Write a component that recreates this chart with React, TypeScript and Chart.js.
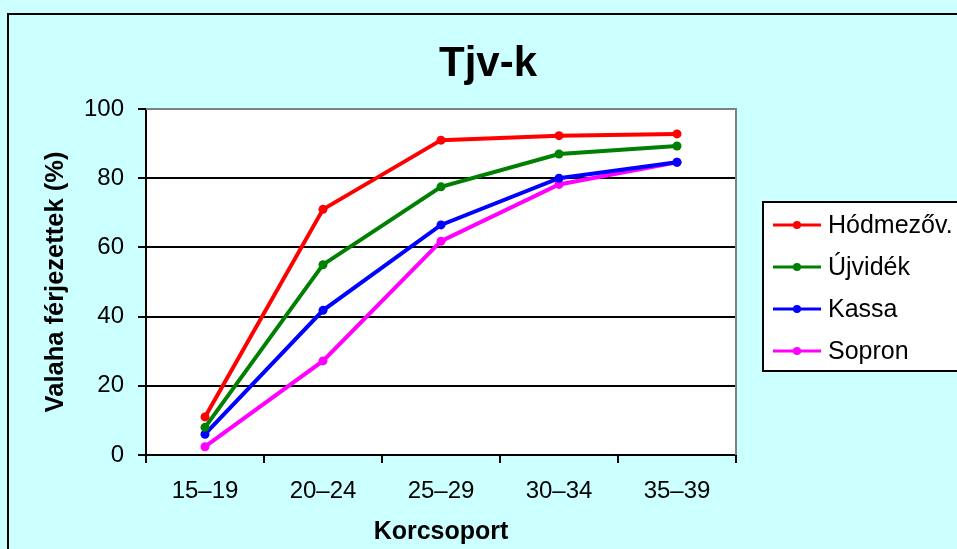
import React, { useEffect, useRef } from "react";
import { Chart, registerables } from "chart.js";

Chart.register(...registerables);

const categories = ["15–19", "20–24", "25–29", "30–34", "35–39"];
const seriesNames = ["Hódmezőv.", "Újvidék", "Kassa", "Sopron"];
const hodmezo = [11, 71, 91, 92.3, 92.8];
const ujvidek = [8, 55, 77.5, 87, 89.3];
const kassa = [6, 41.8, 66.5, 80, 84.6];
const sopron = [2.4, 27.2, 61.8, 78.2, 84.6];
const seriesColors = ["#FF0000", "#008000", "#0000FF", "#FF00FF"];
const yTicks = [0, 20, 40, 60, 80, 100];
const titleText = "Tjv-k";
const xTitle = "Korcsoport";
const yTitle = "Valaha férjezettek (%)";

const FONT = "'Liberation Sans', Arial, sans-serif";

const decorPlugin = {
  id: "decor",
  beforeDraw(chart: any) {
    const { ctx, width, height, chartArea } = chart;
    ctx.save();
    ctx.fillStyle = "#CCFFFF";
    ctx.fillRect(0, 0, width, height);
    ctx.strokeStyle = "#000000";
    ctx.lineWidth = 2;
    ctx.strokeRect(8, 14, width + 20, height + 20);
    ctx.fillStyle = "#FFFFFF";
    ctx.fillRect(chartArea.left, chartArea.top, chartArea.right - chartArea.left, chartArea.bottom - chartArea.top);
    ctx.restore();
  },
  afterDatasetsDraw(chart: any) {
    const { ctx, chartArea } = chart;
    ctx.save();
    ctx.strokeStyle = "#808080";
    ctx.lineWidth = 2;
    ctx.beginPath();
    ctx.moveTo(chartArea.left, chartArea.top);
    ctx.lineTo(chartArea.right, chartArea.top);
    ctx.lineTo(chartArea.right, chartArea.bottom);
    ctx.stroke();
    ctx.restore();
  },
  afterDraw(chart: any) {
    const { ctx } = chart;
    ctx.save();
    // title
    ctx.fillStyle = "#000000";
    ctx.font = `bold 42px ${FONT}`;
    ctx.textAlign = "center";
    ctx.textBaseline = "alphabetic";
    ctx.fillText(titleText, 488, 76);
    // legend
    const boxL = 763, boxT = 202, boxB = 371;
    ctx.fillStyle = "#FFFFFF";
    ctx.fillRect(boxL, boxT, 220, boxB - boxT);
    ctx.strokeStyle = "#000000";
    ctx.lineWidth = 2;
    ctx.strokeRect(boxL, boxT, 220, boxB - boxT);
    chart.data.datasets.forEach((ds: any, i: number) => {
      const y = 225 + i * 42;
      ctx.strokeStyle = ds.borderColor;
      ctx.lineWidth = 3;
      ctx.beginPath();
      ctx.moveTo(773, y);
      ctx.lineTo(821, y);
      ctx.stroke();
      ctx.fillStyle = ds.borderColor;
      ctx.beginPath();
      ctx.arc(797, y, 4, 0, Math.PI * 2);
      ctx.fill();
      ctx.fillStyle = "#000000";
      ctx.font = `25px ${FONT}`;
      ctx.textAlign = "left";
      ctx.textBaseline = "middle";
      ctx.fillText(ds.label, 828, y + 1);
    });
    ctx.restore();
  },
};

export default function App() {
  const ref = useRef<HTMLCanvasElement | null>(null);
  useEffect(() => {
    if (!ref.current) return;
    const seriesData = [hodmezo, ujvidek, kassa, sopron];
    const chart = new Chart(ref.current, {
      type: "line",
      data: {
        labels: categories,
        datasets: seriesNames.map((name, i) => ({
          label: name,
          data: seriesData[i],
          borderColor: seriesColors[i],
          backgroundColor: seriesColors[i],
          borderWidth: 4,
          pointRadius: 4.5,
          pointBorderWidth: 0,
          pointBackgroundColor: seriesColors[i],
          tension: 0,
        })),
      },
      options: {
        responsive: false,
        animation: false,
        layout: { padding: { top: 109, right: 221, left: 0, bottom: 0 } },
        plugins: { legend: { display: false }, title: { display: false }, tooltip: { enabled: false } },
        scales: {
          x: {
            type: "category",
            offset: true,
            grid: {
              offset: true,
              drawOnChartArea: false,
              drawTicks: true,
              tickLength: 8,
              color: "#000000",
              tickColor: "#000000",
              lineWidth: 2,
            },
            border: { display: true, color: "#000000", width: 2 },
            ticks: { color: "#000000", font: { family: FONT, size: 24 }, padding: 14, maxRotation: 0 },
            title: {
              display: true,
              text: xTitle,
              color: "#000000",
              font: { family: FONT, size: 25, weight: "bold", lineHeight: 1 },
              padding: { top: 0, bottom: 4 },
            },
            afterFit(scale: any) {
              scale.height = 94;
            },
          },
          y: {
            min: 0,
            max: 100,
            afterBuildTicks(scale: any) {
              scale.ticks = yTicks.map((v) => ({ value: v }));
            },
            grid: {
              drawTicks: true,
              tickLength: 8,
              color: (c: any) => (c.tick && c.tick.value === 100 ? "#808080" : "#000000"),
              tickColor: "#000000",
              lineWidth: 2,
            },
            border: { display: true, color: "#000000", width: 2 },
            ticks: { color: "#000000", font: { family: FONT, size: 24 }, padding: 14 },
            title: {
              display: true,
              text: yTitle,
              color: "#000000",
              font: { family: FONT, size: 25.5, weight: "bold", lineHeight: 1 },
              padding: { top: 43, bottom: 0 },
            },
            afterFit(scale: any) {
              scale.width = 146;
            },
          },
        },
      },
      plugins: [decorPlugin],
    } as any);
    return () => chart.destroy();
  }, []);
  return (
    <div style={{ position: "absolute", left: 0, top: 0, width: 957, height: 549 }}>
      <canvas ref={ref} width={957} height={549} />
    </div>
  );
}
